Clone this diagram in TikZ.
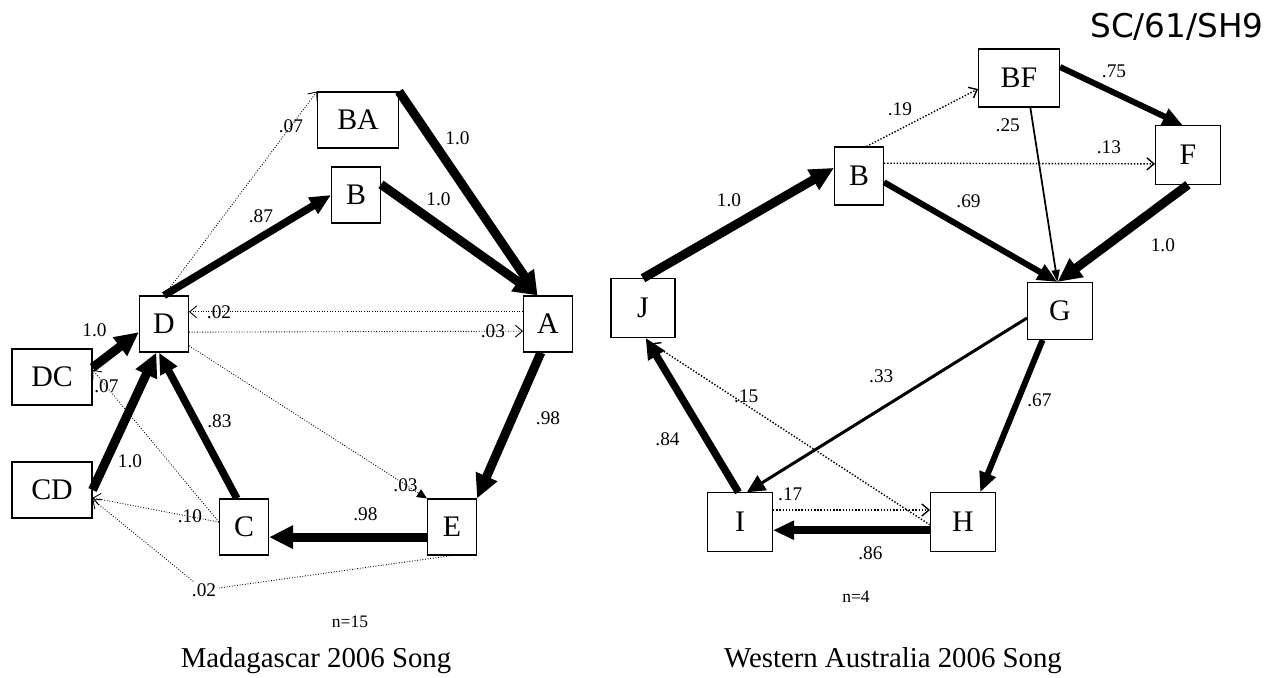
\documentclass[tikz,border=0pt]{standalone}
\usepackage{fontspec}
\setmainfont{Liberation Serif}
\newfontfamily\docfont{DejaVu Sans}
\usetikzlibrary{arrows.meta}

\begin{document}
\begin{tikzpicture}
[x=0.02cm,y=-0.02cm,
box/.style={draw,line width=0.6pt,inner sep=0pt,minimum width=0.98cm,minimum height=1.12cm,font=\fontsize{17}{20}\selectfont},
widebox/.style={box,minimum width=1.62cm},
bigbox/.style={box,minimum width=1.3cm,minimum height=1.17cm},
lab/.style={font=\fontsize{11}{13}\selectfont,inner sep=1pt},
wide/.style={line width=0.18cm,-{Triangle[length=0.48cm,width=0.44cm]}},
strong/.style={line width=0.15cm,-{Triangle[length=0.42cm,width=0.36cm]}},
middling/.style={line width=0.12cm,-{Triangle[length=0.40cm,width=0.33cm]}},
light/.style={line width=0.06cm,-{Triangle[length=0.36cm,width=0.34cm]}},
slim/.style={line width=0.035cm,-{Triangle[length=0.24cm,width=0.16cm]}},
weak/.style={densely dotted,line width=0.5pt,-{Straight Barb[length=0.14cm,width=0.24cm]}},
weakdots/.style={weak,line width=0.8pt},
]

\useasboundingbox (0,0) rectangle (1276,677);

%Madagascar states
\node (mBA) at (358,120)[widebox] {BA};
\node (mB) at (356,195)[box] {B};
\node (mA) at (548,324)[box] {A};
\node (mD) at (164,324)[box] {D};
\node (mDC) at (52,377)[widebox,minimum width=1.6cm] {DC};
\node (mCD) at (52,490)[widebox,minimum width=1.6cm] {CD};
\node (mC) at (244,527)[box] {C};
\node (mE) at (452,527)[box] {E};
\node (m02) at (204,590)[lab] {.02};
\node (mn) at (350,627)[anchor=base,font=\fontsize{10}{12}\selectfont] {n=15};
\node (mtitle) at (316,667)[anchor=base,font=\fontsize{16.4}{19}\selectfont] {Madagascar 2006 Song};

%Madagascar transitions
\draw[weak] (mD.north) -- node[lab,pos=.83] {.07} (mBA.north west);
\draw[strong] (mD.north) -- node[lab,pos=.58,above=5pt] {.87} (mB.west);
\draw[wide] (mBA.north east) -- node[lab,pos=.29,above right] {1.0} (mA.110);
\draw[wide] (mB.23) -- node[lab,pos=.25,above right] {1.0} (mA.110);
\draw[weak] (mA.154) -- node[lab,pos=.91] {.02} (mD.26);
\draw[weak] (mD.-18) -- node[lab,pos=.91] {.03} (mA.196);
\draw[wide] (mA.-104) -- node[lab,pos=.45,right=10pt] {.98} (mE.north east);
\draw[wide] (mE.202) -- node[lab,pos=.39,above=6pt] {.98} (mC.-22);
\draw[strong] (mC.104) -- node[lab,pos=.45,above right] {.83} (mD.-100);
\draw[wide] (mCD.east) -- node[lab,pos=.3,below right] {1.0} (mD.-105);
\draw[wide] (mDC.13) -- node[lab,pos=.55,above left=3pt] {1.0} (mD.198);
\draw[weak] (mC.169) -- node[lab,pos=.89] {.07} (mDC.10);
\draw[weak] (mC.169) -- node[lab,pos=.23] {.10} (mCD.-11);
\draw[weak,-] (mE.south) -- (m02);
\draw[weak] (m02) -- (mCD.-13);
\draw[weak,-{Triangle[length=0.2cm,width=0.18cm]}] (mD.-41) -- node[lab,pos=.91] {.03} (mE.north west);

%Western Australia states
\node (wBF) at (1019,78)[widebox,minimum height=1.16cm] {BF};
\node (wB) at (859,176)[box,minimum height=1.16cm] {B};
\node (wF) at (1188,155)[bigbox] {F};
\node (wJ) at (643,308)[bigbox,minimum width=1.28cm] {J};
\node (wG) at (1060,311)[bigbox,minimum height=1.14cm] {G};
\node (wI) at (740,522)[bigbox] {I};
\node (wH) at (963,522)[bigbox] {H};
\node (wn) at (856,602)[anchor=base,font=\fontsize{10}{12}\selectfont] {n=4};
\node (wtitle) at (893,667)[anchor=base,font=\fontsize{16.4}{19}\selectfont] {Western Australia 2006 Song};
\node (docref) at (1177,37)[anchor=base,font=\docfont\fontsize{18.6}{22}\selectfont] {SC/61/SH9};

%Western Australia transitions
\draw[wide] (wJ.north) -- node[lab,pos=.45,above=9pt] {1.0} (wB.162);
\draw[weakdots] (wB.76) -- node[lab,pos=.3,above=6pt] {.19} (wBF.195);
\draw[weakdots] (wB.27) -- node[lab,pos=.83,above=4pt] {.13} (wF.195);
\draw[middling] (wB.-14) -- node[lab,pos=.36,above right=3pt] {.69} (wG.95);
\draw[middling] (wBF.15) -- node[lab,pos=.44,above=6pt] {.75} (wF.100);
\draw[slim] (wBF.-69) -- node[lab,pos=.1,left=6pt] {.25} (wG.95);
\draw[wide] (wF.south) -- node[lab,pos=.4,below right=5pt] {1.0} (wG.95);
\draw[light] (wG.192) -- node[lab,pos=.52,above=13pt] {.33} (wI.77);
\draw[middling] (wG.-121) -- node[lab,pos=.32,below right] {.67} (wH.60);
\draw[strong] (wH.194) -- node[lab,pos=.38,below=6pt] {.86} (wI.-14);
\draw[weakdots] (wI.20) -- node[lab,pos=.11,above=4pt] {.17} (wH.160);
\draw[strong] (wI.93) -- node[lab,pos=.48,below left=5pt] {.84} (wJ.-85);
\draw[weakdots,shorten >=0.2cm] (wH.185) -- node[lab,pos=.64,above] {.15} (wJ.south);

\end{tikzpicture}
\end{document}
